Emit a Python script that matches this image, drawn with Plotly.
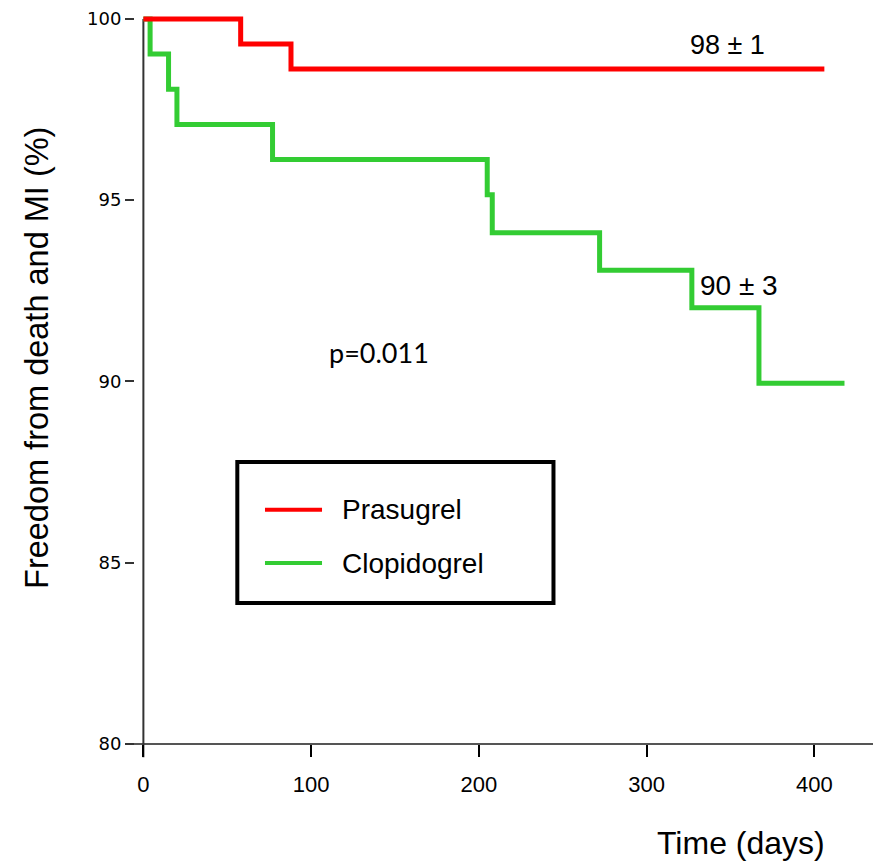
import plotly.graph_objects as go

# Data
prasugrel_days = [0, 58, 88, 406]
prasugrel_surv = [100, 99.31, 98.62, 98.62]

clopidogrel_days = [0, 4, 15, 20, 77, 205, 208, 272, 327, 367, 418]
clopidogrel_surv = [100, 99.03, 98.06, 97.09, 96.12, 95.15, 94.1, 93.07, 92.03, 89.95, 89.95]

x_ticks = [0, 100, 200, 300, 400]
y_ticks = [80, 85, 90, 95, 100]

RED = "#FF0000"
GREEN = "#33CC33"
FONT = "Liberation Sans, Arial, sans-serif"

X_RANGE = [-5, 435]
Y_RANGE = [80, 100.3]

fig = go.Figure()
fig.add_trace(go.Scatter(x=clopidogrel_days, y=clopidogrel_surv, mode="lines",
                         line=dict(color=GREEN, width=5, shape="hv"),
                         name="Clopidogrel", showlegend=False))
fig.add_trace(go.Scatter(x=prasugrel_days, y=prasugrel_surv, mode="lines",
                         line=dict(color=RED, width=5, shape="hv"),
                         name="Prasugrel", showlegend=False))

# axis lines
x0_paper = (0 - X_RANGE[0]) / (X_RANGE[1] - X_RANGE[0])
y100_paper = (100 - Y_RANGE[0]) / (Y_RANGE[1] - Y_RANGE[0])
fig.add_shape(type="line", xref="paper", yref="paper", x0=-0.003, x1=1, y0=0, y1=0,
              line=dict(color="#555555", width=2), layer="below")
fig.add_shape(type="line", xref="paper", yref="paper", x0=x0_paper, x1=x0_paper,
              y0=-0.018, y1=y100_paper, line=dict(color="#333333", width=2), layer="below")

# legend box
fig.add_shape(type="rect", xref="x", yref="y", x0=56, x1=244.5, y0=83.89, y1=87.78,
              line=dict(color="black", width=4), fillcolor="rgba(0,0,0,0)")
fig.add_shape(type="line", xref="x", yref="y", x0=72.5, x1=106.5, y0=86.46, y1=86.46,
              line=dict(color=RED, width=4))
fig.add_shape(type="line", xref="x", yref="y", x0=72.5, x1=106.5, y0=84.99, y1=84.99,
              line=dict(color=GREEN, width=4))
fig.add_annotation(x=117.5, y=86.46, xref="x", yref="y", text="Prasugrel", showarrow=False,
                   xanchor="left", yanchor="middle", font=dict(family=FONT, size=28, color="black"))
fig.add_annotation(x=117.5, y=84.99, xref="x", yref="y", text="Clopidogrel", showarrow=False,
                   xanchor="left", yanchor="middle", font=dict(family=FONT, size=28, color="black"))

# text labels
fig.add_annotation(x=348.5, y=99.28, xref="x", yref="y", text="98 ± 1", showarrow=False,
                   xanchor="center", yanchor="middle", font=dict(family=FONT, size=27, color="black"))
fig.add_annotation(x=355, y=92.66, xref="x", yref="y", text="90 ± 3", showarrow=False,
                   xanchor="center", yanchor="middle", font=dict(family=FONT, size=28, color="black"))
fig.add_annotation(x=140.5, y=90.81, xref="x", yref="y", text="p=0.011", showarrow=False,
                   xanchor="center", yanchor="middle", font=dict(family="Lato, Carlito, sans-serif", size=27, color="black"))

# axis titles
fig.add_annotation(x=356, y=-0.1345, xref="x", yref="paper", text="Time (days)", showarrow=False,
                   xanchor="center", yanchor="middle", font=dict(family=FONT, size=32, color="black"))
fig.add_annotation(x=-0.1328, y=0.5245, xref="paper", yref="paper",
                   text="Freedom from death and MI (%)", showarrow=False, textangle=-90,
                   xanchor="center", yanchor="middle", font=dict(family=FONT, size=32.5, color="black"))

fig.update_xaxes(range=X_RANGE, tickvals=x_ticks, ticktext=[str(v) for v in x_ticks],
                 ticks="outside", ticklen=12, tickwidth=1.5, tickcolor="black",
                 ticklabelstandoff=9,
                 showline=False, showgrid=False, zeroline=False,
                 tickfont=dict(family=FONT, size=22, color="black"))
fig.update_yaxes(range=Y_RANGE, tickvals=y_ticks, ticktext=[str(v) for v in y_ticks],
                 ticks="outside", ticklen=9, tickwidth=1.5, tickcolor="#333333",
                 showline=False, showgrid=False, zeroline=False,
                 tickfont=dict(family="DejaVu Sans, sans-serif", size=18, color="black"))

fig.update_layout(width=877, height=863, margin=dict(l=135, r=4, t=8, b=119),
                  plot_bgcolor="white", paper_bgcolor="white", showlegend=False)

fig.write_html("out.html")
